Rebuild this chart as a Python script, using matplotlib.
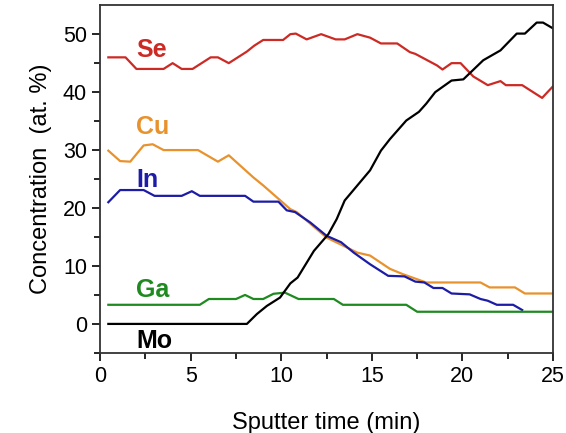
import matplotlib
matplotlib.use("Agg")
import matplotlib.pyplot as plt

plt.rcParams['font.family'] = ['Liberation Sans', 'DejaVu Sans']

# sputter depth profile
se_t = [0.45, 1.4, 2.0, 3.5, 4.0, 4.5, 5.1, 6.1, 6.5, 7.1, 8.1, 8.5, 9.0, 10.1, 10.5,
        10.8, 11.4, 12.2, 13.0, 13.5, 14.2, 14.9, 15.5, 16.4, 17.1, 17.4, 18.6, 18.9,
        19.4, 19.9, 20.6, 21.4, 22.1, 22.4, 23.3, 24.4, 25.0]
se_c = [46, 46, 44, 44, 45, 44, 44, 46, 46, 45, 47, 48, 49, 49, 50,
        50.1, 49.1, 50, 49.1, 49.1, 50, 49.4, 48.4, 48.4, 46.9, 46.6, 44.6, 43.9,
        45.0, 45.0, 42.7, 41.2, 41.9, 41.2, 41.2, 39.0, 41.0]

cu_t = [0.45, 1.1, 1.66, 2.4, 2.9, 3.5, 5.4, 6.5, 7.1, 8.45, 9.0, 10.5, 10.85,
        12.5, 14.2, 14.9, 16.0, 16.7, 18.0, 21.0, 21.5, 22.9, 23.45, 25.0]
cu_c = [29.9, 28.1, 28, 30.8, 31, 30, 30, 28, 29.1, 25.3, 23.9, 19.8, 19.3,
        14.9, 12.3, 11.8, 9.5, 8.6, 7.15, 7.15, 6.3, 6.3, 5.25, 5.25]

in_t = [0.45, 1.1, 2.4, 3.0, 4.5, 5.06, 5.5, 8.0, 8.46, 9.84, 10.3, 10.76, 11.6,
        12.5, 13.3, 14.0, 14.9, 15.9, 16.8, 17.4, 17.9, 18.4, 18.9, 19.4, 20.4,
        21.0, 21.4, 21.9, 22.8, 23.3]
in_c = [21.0, 23.1, 23.1, 22.1, 22.1, 22.9, 22.1, 22.1, 21.1, 21.1, 19.6, 19.3, 17.5,
        15.2, 14.1, 12.3, 10.3, 8.3, 8.2, 7.3, 7.15, 6.2, 6.2, 5.25, 5.1,
        4.3, 4.0, 3.3, 3.3, 2.4]

ga_t = [0.45, 5.5, 6.0, 7.5, 8.0, 8.46, 9.0, 9.57, 10.2, 10.95, 12.9, 13.4, 16.9,
        17.5, 25.0]
ga_c = [3.3, 3.3, 4.3, 4.3, 5.0, 4.3, 4.3, 5.2, 5.4, 4.3, 4.3, 3.3, 3.3,
        2.1, 2.1]

mo_t = [0.45, 8.1, 8.65, 9.2, 9.93, 10.5, 10.9, 11.8, 12.6, 13.06, 13.5, 14.9, 15.5,
        16.0, 16.9, 17.6, 18.0, 18.5, 19.4, 20.05, 21.15, 22.1, 23.0, 23.45, 24.1,
        24.45, 25.0]
mo_c = [0, 0, 1.7, 3.1, 4.55, 7.0, 8.0, 12.6, 15.5, 18.1, 21.3, 26.5, 29.9,
        31.9, 35.1, 36.6, 38.0, 40.0, 42.0, 42.2, 45.5, 47.2, 50.1, 50.1, 52.0,
        52.0, 51.0]

colors = {'Se': '#cc2a24', 'Cu': '#e8922e', 'In': '#1c1ca6', 'Ga': '#1f8a1f', 'Mo': 'black'}

fig = plt.figure(figsize=(5.66, 4.33), dpi=100)
ax = fig.add_axes([0.177, 0.185, 0.800, 0.803])

lw = 1.6
ax.plot(se_t, se_c, color=colors['Se'], lw=lw)
ax.plot(cu_t, cu_c, color=colors['Cu'], lw=lw)
ax.plot(in_t, in_c, color=colors['In'], lw=lw)
ax.plot(ga_t, ga_c, color=colors['Ga'], lw=lw)
ax.plot(mo_t, mo_c, color=colors['Mo'], lw=lw)

# element labels
lab_kw = dict(fontsize=18, fontweight='bold', va='center', ha='left')
ax.text(2.0, 47.3, 'Se', color=colors['Se'], **lab_kw)
ax.text(2.0, 33.9, 'Cu', color=colors['Cu'], **lab_kw)
ax.text(2.0, 24.8, 'In', color=colors['In'], **lab_kw)
ax.text(2.0, 5.8, 'Ga', color=colors['Ga'], **lab_kw)
ax.text(2.0, -2.9, 'Mo', color=colors['Mo'], **lab_kw)

ax.set_xlim(0, 25)
ax.set_ylim(-5, 55)
ax.set_xticks([0, 5, 10, 15, 20, 25])
ax.set_xticks([2.5, 7.5, 12.5, 17.5, 22.5], minor=True)
ax.set_yticks([0, 10, 20, 30, 40, 50])
ax.set_yticks([-5, 5, 15, 25, 35, 45], minor=True)
ax.tick_params(which='major', direction='out', length=6, width=1.2, labelsize=15.5)
ax.tick_params(which='minor', direction='out', length=4, width=1.2)
for s in ax.spines.values():
    s.set_linewidth(1.3)
    s.set_color('#333333')

ax.set_xlabel('Sputter time (min)', fontsize=17, labelpad=18)
ax.set_ylabel('Concentration  (at. %)', fontsize=17, labelpad=8)

fig.savefig('out.png', dpi=100)
